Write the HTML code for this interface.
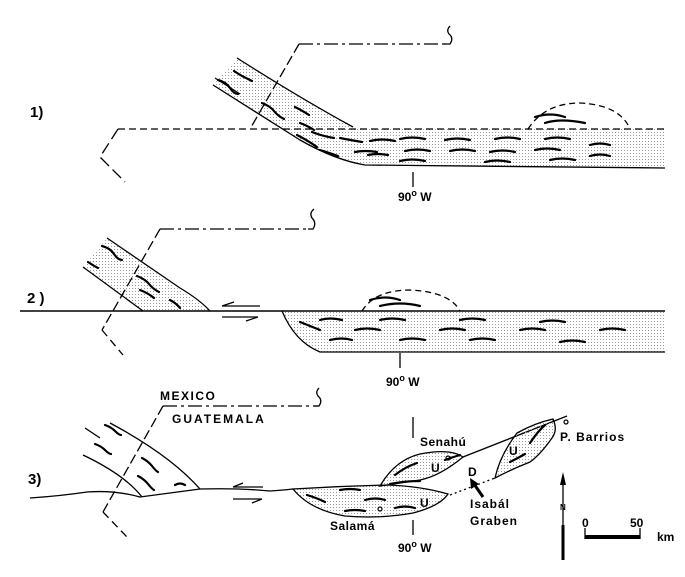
<!DOCTYPE html>
<html><head><meta charset="utf-8"><style>
html,body{margin:0;padding:0;background:#fff;}
svg{display:block;font-family:"Liberation Sans",sans-serif;font-weight:bold;}
</style></head><body>
<svg width="685" height="577" viewBox="0 0 685 577" xmlns="http://www.w3.org/2000/svg">
<defs>
<pattern id="dots" width="3" height="3" patternUnits="userSpaceOnUse"><rect width="1" height="1" fill="#999"/></pattern>
</defs>
<g fill="none" stroke="#000" stroke-width="1.3">
<!-- Panel 1 -->
<path d="M237,58 Q300,98 353,127 L665,129 L665,168 L365,165 Q340,160 300,140 L213,85 Z" fill="url(#dots)" stroke="none"/>
<path d="M237,58 Q300,98 353,127"/>
<path d="M213,85 L300,140 Q335,160 365,165 L665,168"/>
<path d="M215,78 L240,94"/>
<path d="M118,129 L665,129" stroke-dasharray="7,4"/>
<path d="M528,129 Q545,103 580,103 Q620,105 630,129" stroke-dasharray="6,4"/>
<path d="M299,44 L447,44" stroke-dasharray="14,4,3,4"/>
<path d="M444,44 L450,44 Q454,38 449,34 Q446,30 450,26"/>
<path d="M299,44 L250,129" stroke-dasharray="10,4"/>
<path d="M118,129 L100,157 L125,182" stroke-dasharray="12,5"/>
<path d="M413,172 L413,187"/>
<!-- Panel 2 -->
<path d="M107,238 Q180,290 210,311 L143,311 L83,267 Z" fill="url(#dots)" stroke="none"/>
<path d="M282,311 L665,311 L665,352 L320,352 Q295,340 282,311 Z" fill="url(#dots)" stroke="none"/>
<path d="M20,311 L665,311" stroke-width="1.6"/>
<path d="M107,238 L180,288 Q200,300 210,311"/>
<path d="M83,267 L143,311"/>
<path d="M282,311 Q295,342 320,352 L665,352"/>
<path d="M362,311 Q375,290 410,290 Q450,292 460,311" stroke-dasharray="6,4"/>
<path d="M160,229 L310,229" stroke-dasharray="14,4,3,4"/>
<path d="M308,229 L313,229 Q317,223 312,218 Q309,213 314,209"/>
<path d="M160,229 L102,330" stroke-dasharray="10,4"/>
<path d="M102,330 L123,355" stroke-dasharray="8,5"/>
<path d="M222,306 L260,306 M222,306 L234,302"/>
<path d="M222,317 L258,317 M258,317 L246,321"/>
<path d="M400,353 L400,368"/>
<!-- Panel 3 -->
<path d="M163,406 L318,406" stroke-dasharray="14,4,3,4"/>
<path d="M314,406 L319,406 Q323,400 318,396 Q315,392 319,388"/>
<path d="M163,406 L103,512" stroke-dasharray="10,4"/>
<path d="M103,512 L127,537" stroke-dasharray="8,5"/>
<path d="M110,423 Q170,455 200,489"/>
<path d="M83,455 Q125,475 142,497"/>
<path d="M85,428 L100,438"/>
<path d="M30,498 Q60,496 87,492 Q115,490 140,497 Q170,493 200,489 Q240,488 270,491 Q285,490 293,489"/>
<path d="M293,489 Q340,486 387,485 Q420,486 448,494 Q440,506 413,513 Q380,519 345,516 Q310,510 293,489 Z" fill="url(#dots)"/>
<path d="M380,486 Q395,460 420,454 Q450,448 463,457 Q440,476 420,480 Z" fill="url(#dots)"/>
<path d="M463,457 L567,416"/>
<path d="M553,419 Q558,430 552,438 Q540,455 530,462 Q510,470 495,478 Q500,455 517,433 Q535,423 553,419 Z" fill="url(#dots)"/>
<path d="M450,495 L495,478" stroke-dasharray="2,3"/>
<path d="M233,487 L263,487 M233,487 L243,483"/>
<path d="M233,499 L262,499 M262,499 L252,503"/>
<path d="M413,417 L413,438"/>
<path d="M413,520 L413,535"/>
<path d="M563,478 L563,560"/>
<path d="M585,528 L585,539 M640,528 L640,539"/>
</g>
<!-- wavy marks -->
<g fill="none" stroke="#000" stroke-width="2.2" stroke-linecap="round">
<path d="M218,80 q8,2 12,8 t8,6 M234,71 q6,4 10,6 t8,4 M262,103 q8,3 12,8 t10,8 M295,107 q8,4 14,8 M300,123 q8,3 14,7 M312,132 q10,4 22,6 M297,135 q10,5 20,12 M340,138 q10,2 22,4 M320,150 q10,3 18,6 M355,152 q10,-2 22,0 M370,141 q12,-3 25,0 M368,155 q10,-2 20,0 M400,139 q12,-3 25,0 M405,151 q12,-3 25,0 M400,161 q12,-3 25,0 M445,140 q12,-3 25,0 M450,151 q12,-3 25,0 M495,139 q12,-3 25,0 M490,152 q12,-3 25,0 M485,162 q12,-3 25,0 M545,139 q12,-3 25,0 M535,150 q12,-3 25,0 M550,160 q12,-3 25,0 M590,145 q10,-3 20,0 M590,156 q10,-3 20,0 M535,117 q15,-5 30,0 M545,123 q15,-5 40,0"/>
<path d="M102,246 q8,2 12,8 t8,6 M88,262 q6,4 10,6 M137,276 q8,3 12,8 t10,8 M140,290 q8,3 14,8 M170,300 q6,3 10,8 M300,322 q10,4 20,8 M320,320 q10,-3 22,0 M330,340 q12,-3 22,0 M355,330 q12,-3 25,0 M380,320 q12,-3 25,0 M400,340 q12,-3 25,0 M440,330 q12,-3 25,0 M460,320 q12,-3 25,0 M470,340 q12,-3 25,0 M520,330 q12,-3 25,0 M540,322 q12,-3 25,0 M560,342 q12,-3 25,0 M600,330 q12,-3 25,0 M370,300 q15,-5 30,0 M380,306 q20,-5 40,0"/>
<path d="M105,425 q6,2 10,6 t6,4 M95,444 q6,2 10,6 t6,4 M142,458 q6,3 10,8 t6,6 M138,476 q6,3 10,8 t6,6 M175,485 q5,-3 10,0 M307,495 q10,3 18,7 M340,490 q10,-2 20,0 M365,500 q10,-3 20,0 M345,511 q10,-2 20,0 M395,508 q10,-3 20,0 M395,475 q10,-8 22,-12 M390,484 q15,-3 30,-3 M445,460 q8,-3 15,-5 M530,443 q8,-12 15,-18 M510,462 q8,-4 15,-8"/>
</g>
<g fill="#000" font-size="15">
<text x="30" y="117">1)</text>
<text x="27" y="303">2 )</text>
<text x="28" y="484">3)</text>
</g>
<g fill="#000" font-size="12">
<text x="398" y="201">90<tspan dy="-5" font-size="9">o</tspan><tspan dy="5"> W</tspan></text>
<text x="386" y="386">90<tspan dy="-5" font-size="9">o</tspan><tspan dy="5"> W</tspan></text>
<text x="398" y="552">90<tspan dy="-5" font-size="9">o</tspan><tspan dy="5"> W</tspan></text>
<text x="160" y="400" letter-spacing="1.5">MEXICO</text>
<text x="172" y="423" letter-spacing="2">GUATEMALA</text>
<text x="420" y="446" letter-spacing="0.5">Senahú</text>
<text x="431" y="472">U</text>
<text x="468" y="476">D</text>
<text x="420" y="507">U</text>
<text x="509" y="455">U</text>
<text x="330" y="530" letter-spacing="0.5">Salamá</text>
<text x="470" y="508" letter-spacing="1">Isabál</text>
<text x="470" y="525" letter-spacing="1">Graben</text>
<text x="560" y="441" letter-spacing="1">P. Barrios</text>
<text x="582" y="527">0</text>
<text x="630" y="527">50</text>
<text x="657" y="541">km</text>
<text x="560" y="510" font-size="8">N</text>
</g>
<g fill="none" stroke="#000" stroke-width="1.2">
<circle cx="448" cy="458" r="2"/><circle cx="380" cy="509" r="2"/><circle cx="566" cy="422" r="2"/>
</g>
<rect x="585" y="535" width="55" height="4" fill="#000"/>
<path d="M483,497 L474,484" stroke="#000" stroke-width="3"/>
<path d="M470,478 L479,484 L471,489 Z" fill="#000"/>
<path d="M563,472 L560,485 L566,485 Z" fill="#000"/>
<rect x="561.5" y="525" width="3" height="35" fill="#000"/>
</svg>
</body></html>
